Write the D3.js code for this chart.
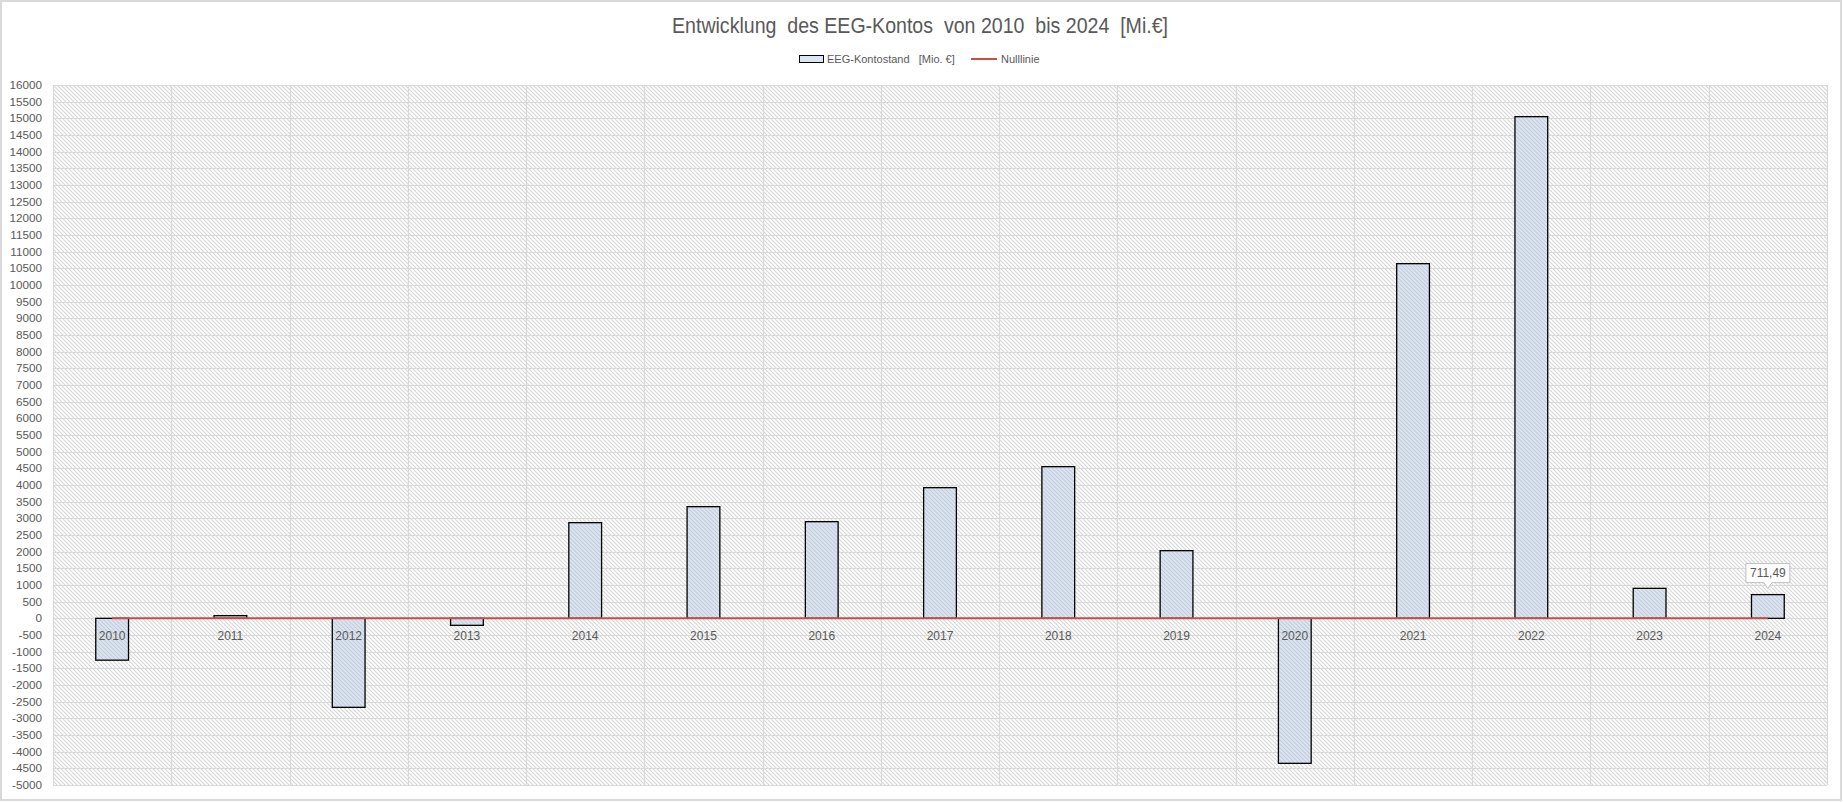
<!DOCTYPE html>
<html>
<head>
<meta charset="utf-8">
<script src="https://cdn.jsdelivr.net/npm/d3@7"></script>
<style>
  html, body { margin: 0; padding: 0; background: #ffffff; }
  svg { display: block; }
  text { font-family: "Liberation Sans", "DejaVu Sans", sans-serif; }
</style>
</head>
<body>
<svg id="chart" width="1843" height="802"></svg>
<script>
// ---- data ----
const years = ["2010","2011","2012","2013","2014","2015","2016","2017","2018","2019","2020","2021","2022","2023","2024"];
const kontostand = [-1255, 80, -2670, -210, 2870, 3350, 2900, 3920, 4550, 2030, -4350, 10640, 15050, 900, 711.49];
const nulllinie = [0,0,0,0,0,0,0,0,0,0,0,0,0,0,0];
const yTicks = d3.range(-5000, 16001, 500);
const titleText = "Entwicklung  des EEG-Kontos  von 2010  bis 2024  [Mi.€]";
const legendLabels = ["EEG-Kontostand   [Mio. €]", "Nulllinie"];
const labelIndex = 14;
const labelText = "711,49";

// ---- layout ----
const W = 1843, H = 802;
const plot = { left: 53, top: 85, right: 1827, bottom: 785 };
const textColor = "#595959";
const gridColor = "#d9d9d9";
const barFill = "#dce6f2";
const redColor = "#c0504d";

const svg = d3.select("#chart");
const defs = svg.append("defs");

// hatching pattern for plot area
const pat = defs.append("pattern").attr("id", "hatch").attr("patternUnits", "userSpaceOnUse")
  .attr("width", 4).attr("height", 4);
pat.append("rect").attr("width", 4).attr("height", 4).attr("fill", "#ffffff");
pat.append("path").attr("d", "M-1,-1 L5,5 M-1,3 L1,5 M3,-1 L5,1").attr("stroke", "#d6d6d6").attr("stroke-width", 1.1);

const pat2 = defs.append("pattern").attr("id", "hatchBar").attr("patternUnits", "userSpaceOnUse")
  .attr("width", 4).attr("height", 4);
pat2.append("rect").attr("width", 4).attr("height", 4).attr("fill", barFill);
pat2.append("path").attr("d", "M-1,-1 L5,5 M-1,3 L1,5 M3,-1 L5,1").attr("stroke", "#c3ccd8").attr("stroke-width", 1.1);

// outer frame
svg.append("rect").attr("x", 1).attr("y", 1).attr("width", W - 3).attr("height", H - 3)
  .attr("fill", "#ffffff").attr("stroke", "#d9d9d9").attr("stroke-width", 2);

const x = d3.scaleBand().domain(years).range([plot.left, plot.right]).padding(0);
const y = d3.scaleLinear().domain([-5000, 16000]).range([plot.bottom, plot.top]);

// plot background
svg.append("rect").attr("x", plot.left).attr("y", plot.top)
  .attr("width", plot.right - plot.left).attr("height", plot.bottom - plot.top)
  .attr("fill", "url(#hatch)");

// horizontal gridlines
svg.append("g").selectAll("line").data(yTicks).join("line")
  .attr("x1", plot.left).attr("x2", plot.right)
  .attr("y1", d => Math.round(y(d)) + 0.5).attr("y2", d => Math.round(y(d)) + 0.5)
  .attr("stroke", gridColor).attr("stroke-width", 1.2);

// vertical gridlines at band boundaries
const vlines = years.map(d => x(d)).concat([plot.right]);
svg.append("g").selectAll("line").data(vlines).join("line")
  .attr("x1", d => Math.round(d) + 0.5).attr("x2", d => Math.round(d) + 0.5)
  .attr("y1", plot.top).attr("y2", plot.bottom)
  .attr("stroke", gridColor).attr("stroke-width", 1.2);

// y tick labels
svg.append("g").selectAll("text").data(yTicks).join("text")
  .attr("x", 42).attr("y", d => y(d)).attr("dy", "0.35em")
  .attr("text-anchor", "end").attr("fill", textColor).attr("font-size", 11.7)
  .text(d => d);

// bars
const bw = x.bandwidth() * 0.277;
svg.append("g").selectAll("rect").data(years).join("rect")
  .attr("x", d => x(d) + (x.bandwidth() - bw) / 2)
  .attr("y", (d, i) => y(Math.max(0, kontostand[i])))
  .attr("width", bw)
  .attr("height", (d, i) => Math.abs(y(kontostand[i]) - y(0)))
  .attr("fill", "url(#hatchBar)").attr("stroke", "#000").attr("stroke-width", 1.3);

// category labels
svg.append("g").selectAll("text").data(years).join("text")
  .attr("x", d => x(d) + x.bandwidth() / 2).attr("y", y(0) + 17).attr("dy", "0.35em")
  .attr("text-anchor", "middle").attr("fill", textColor).attr("font-size", 12)
  .text(d => d);

// Nulllinie
const line = d3.line().x((d, i) => x(years[i]) + x.bandwidth() / 2).y(d => y(d));
svg.append("path").datum(nulllinie).attr("d", line)
  .attr("fill", "none").attr("stroke", redColor).attr("stroke-width", 2);

// data label callout for 2024
{
  const cx = x(years[labelIndex]) + x.bandwidth() / 2;
  const top = y(kontostand[labelIndex]);
  const bx1 = cx - 22, bx2 = cx + 22, by1 = top - 31, by2 = top - 12;
  const p = `M${bx1},${by1} L${bx2},${by1} L${bx2},${by2} L${cx + 4},${by2} L${cx},${by2 + 6} L${cx - 4},${by2} L${bx1},${by2} Z`;
  svg.append("path").attr("d", p).attr("fill", "#ffffff").attr("stroke", "#bfbfbf").attr("stroke-width", 1);
  svg.append("text").attr("x", cx).attr("y", (by1 + by2) / 2).attr("dy", "0.35em")
    .attr("text-anchor", "middle").attr("fill", textColor).attr("font-size", 12).text(labelText);
}

// title
svg.append("text").attr("transform", "translate(920,25) scale(0.89,1)").attr("dy", "0.35em")
  .attr("text-anchor", "middle").attr("fill", textColor).attr("font-size", 22)
  .style("white-space", "pre").text(titleText);

// legend
const lg = svg.append("g");
lg.append("rect").attr("x", 799.5).attr("y", 55.5).attr("width", 24).attr("height", 7)
  .attr("fill", barFill).attr("stroke", "#000").attr("stroke-width", 1);
lg.append("text").attr("x", 827).attr("y", 59).attr("dy", "0.35em").attr("fill", textColor)
  .attr("font-size", 11).style("white-space", "pre").text(legendLabels[0]);
lg.append("line").attr("x1", 971).attr("x2", 997).attr("y1", 59).attr("y2", 59)
  .attr("stroke", redColor).attr("stroke-width", 2);
lg.append("text").attr("x", 1001).attr("y", 59).attr("dy", "0.35em").attr("fill", textColor)
  .attr("font-size", 11).text(legendLabels[1]);
</script>
</body>
</html>
